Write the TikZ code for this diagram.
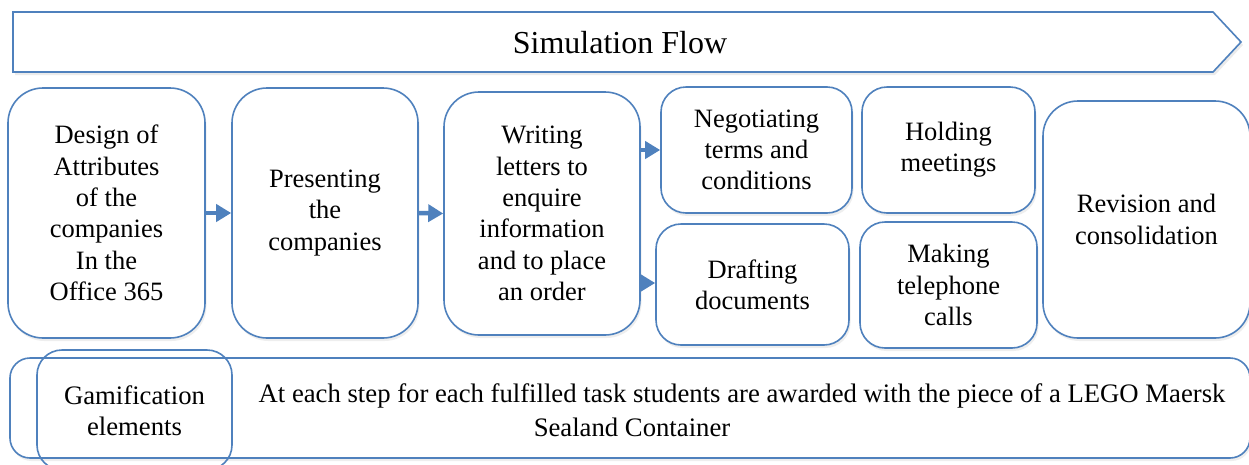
\documentclass[tikz,border=0pt]{standalone}
\usepackage{fontspec}
\setmainfont{Liberation Serif}
\usetikzlibrary{arrows.meta,shadows}
\definecolor{accent}{HTML}{4F81BD}
\begin{document}
\begin{tikzpicture}[x=1pt,y=-1pt,
  box/.style={draw=accent, line width=1.6pt, fill=white, rounded corners=#1,
    align=center, inner sep=0pt, font=\fontsize{26.5}{31.3}\selectfont,
    drop shadow={opacity=0.13, shadow xshift=1.5pt, shadow yshift=-3pt}},
  box/.default=30pt,
  flow/.style={draw=accent, line width=4.5pt, -{Triangle[length=15pt,width=17pt]}},
  txt/.style={inner sep=0pt, font=\fontsize{26.7}{31.3}\selectfont, align=center},
]
\clip (0,0) rectangle (1249,464);
\fill[white] (0,0) rectangle (1249,464);

% banner
\fill[black, opacity=0.08] (15,15) -- (1215,15) -- (1243,45) -- (1215,75) -- (15,75) -- cycle;
\draw[accent, line width=1.6pt, fill=white] (13,12) -- (1213,12) -- (1241,42) -- (1213,72) -- (13,72) -- cycle;
\node[txt, font=\fontsize{32}{36}\selectfont] (title) at (620,43) {Simulation Flow};

% boxes
\node[box=35pt, minimum width=197pt, minimum height=250pt] (design) at (106.5,213)
  {Design of\\Attributes\\of the\\companies\\In the\\Office 365};
\node[box=35pt, minimum width=186pt, minimum height=250pt] (present) at (325,213)
  {Presenting\\the\\companies};
\node[box=35pt, minimum width=196pt, minimum height=243pt] (writing) at (542,213.5)
  {Writing\\letters to\\enquire\\information\\and to place\\an order};
\node[box=25pt, minimum width=191pt, minimum height=126pt] (neg) at (756.5,150)
  {Negotiating\\terms and\\conditions};
\node[box=25pt, minimum width=193pt, minimum height=121pt] (draft) at (752.5,284.5)
  {Drafting\\documents};
\node[box=25pt, minimum width=173pt, minimum height=126pt] (hold) at (948.5,150)
  {Holding\\meetings};
\node[box=25pt, minimum width=177pt, minimum height=126pt] (make) at (948.5,285)
  {Making\\telephone\\calls};
\node[box=35pt, minimum width=207pt, minimum height=237pt] (rev) at (1146.5,219.5)
  {Revision and\\consolidation};

% bottom
\node[box=20pt, minimum width=1240pt, minimum height=100pt] (bottom) at (630,408) {};
\node[draw=accent, line width=1.6pt, rounded corners=25pt, minimum width=195pt,
  minimum height=120pt, inner sep=0pt] (gambox) at (134.5,410) {};
\node[txt] (gam) at (134.5,410.5) {Gamification\\elements};
\node[txt] (award1) at (742,396) {At each step for each fulfilled task students are awarded with the piece of a LEGO Maersk};
\node[txt] (award2) at (632,427) {Sealand Container};

% connectors
\draw[flow] (design.east) -- (present.west);
\draw[flow] (present.east) -- (writing.west);
\draw[flow] (writing.east |- neg.west) -- (neg.west);
\draw[flow] (writing.east |- 0,283) -- (draft.west |- 0,283);
\end{tikzpicture}
\end{document}
